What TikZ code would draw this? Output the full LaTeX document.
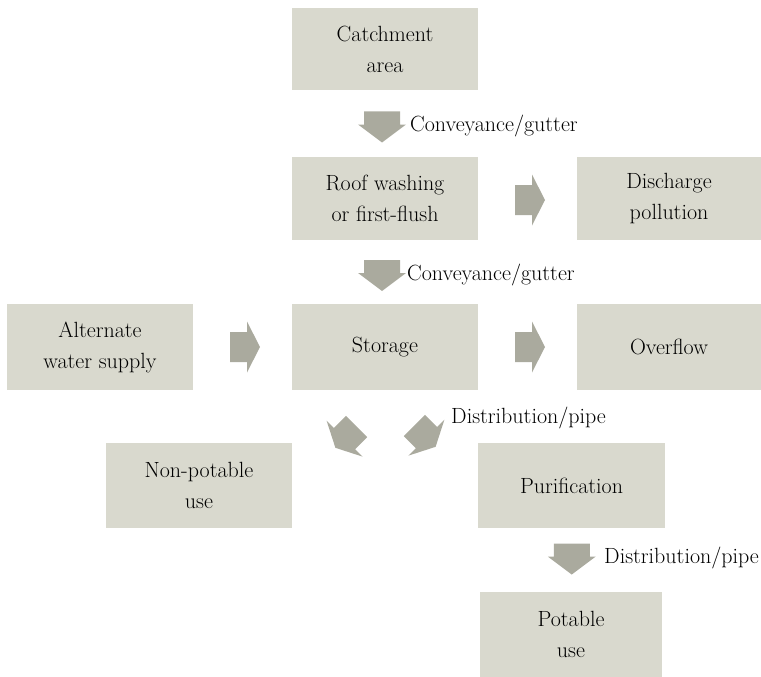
\documentclass[tikz,border=0pt]{standalone}
\usetikzlibrary{calc}
\definecolor{boxc}{RGB}{217,217,206}
\definecolor{arrowc}{RGB}{170,170,158}
\tikzset{
  txt/.style={font=\fontsize{22}{31}\selectfont},
  flowbox/.style={txt, fill=boxc, draw=none, inner sep=0pt, minimum width=186pt, minimum height=84pt, align=center},
  lbl/.style={txt, anchor=west, inner sep=0pt},
  blkdown/.pic={\fill[arrowc] (-15.5,-18)--(-2.5,-18)--(-2.5,-24)--(15.5,0)--(-2.5,24)--(-2.5,18)--(-15.5,18)--cycle;},
  blkright/.pic={\fill[arrowc] (-15,-15)--(2,-15)--(2,-25.5)--(15,0)--(2,25.5)--(2,15)--(-15,15)--cycle;}
}
\begin{document}
\begin{tikzpicture}[x=1pt,y=-1pt]
\useasboundingbox (0,0) rectangle (761,677);
% boxes
\node[flowbox, minimum height=82pt] (catch) at (385,49) {Catchment\\area};
\node[flowbox, minimum height=83pt] (roof) at (385,198.5) {Roof washing\\or first-flush};
\node[flowbox, minimum width=184pt, minimum height=83pt] (disch) at (669,198.5) {Discharge\\pollution};
\node[flowbox, minimum height=86pt] (alt) at (100,347) {Alternate\\water supply};
\node[flowbox, minimum height=86pt] (stor) at (385,347) {Storage};
\node[flowbox, minimum width=184pt, minimum height=86pt] (over) at (669,347) {Overflow};
\node[flowbox, minimum height=85pt] (nonpot) at (199,485.5) {Non-potable\\use};
\node[flowbox, minimum width=187pt, minimum height=85pt] (puri) at (571.5,485.5) {Purification};
\node[flowbox, minimum width=182pt, minimum height=85pt] (pot) at (571,634.5) {Potable\\use};
% block arrows
\pic[rotate=-90] at ($(catch.south)!0.5!(roof.north)+(-3,3.5)$) {blkdown};
\pic[rotate=-90] at ($(roof.south)!0.5!(stor.north)+(-3,3.5)$) {blkdown};
\pic[rotate=-90] at ($(puri.south)!0.5!(pot.north)+(0.5,-1)$) {blkdown};
\pic at ($(roof.east)!0.5!(disch.west)+(2.5,1.5)$) {blkright};
\pic at ($(alt.east)!0.5!(stor.west)+(2.5,0)$) {blkright};
\pic at ($(stor.east)!0.5!(over.west)+(2.5,0)$) {blkright};
\pic[rotate=-135] at ($(stor.south)+(-39,47)$) {blkright};
\pic[rotate=-45] at ($(stor.south)+(40,46)$) {blkright};
% labels
\node[lbl] (l1) at (410,126) {Conveyance/gutter};
\node[lbl] (l2) at (407,275) {Conveyance/gutter};
\node[lbl] (l3) at (451,418) {Distribution/pipe};
\node[lbl] (l4) at (604,558) {Distribution/pipe};
\end{tikzpicture}
\end{document}
